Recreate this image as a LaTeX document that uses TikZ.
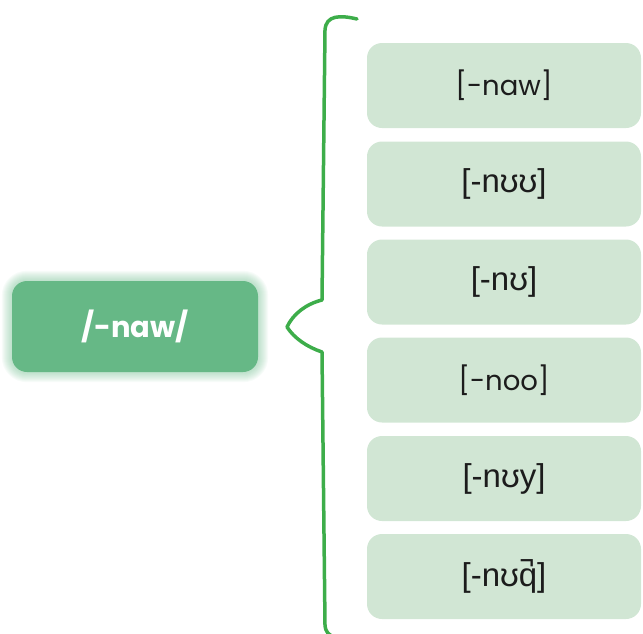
\documentclass[tikz,border=0pt]{standalone}
\usepackage{fontspec}
\setmainfont{Poppins}
\newfontfamily\ipafont[Scale=1.2]{Liberation Sans}
\usetikzlibrary{backgrounds}
\definecolor{rootgreen}{HTML}{66B886}
\definecolor{formgreen}{HTML}{D1E6D4}
\definecolor{bracegreen}{HTML}{3DAD4A}
\definecolor{formtext}{HTML}{1C1C1C}
\begin{document}
\begin{tikzpicture}[x=1pt,y=-1pt,
  root/.style={fill=rootgreen,rounded corners=15pt,minimum width=246pt,minimum height=91pt,
    text=white,font=\fontsize{29}{34}\selectfont\bfseries},
  glow/.style={fill=rootgreen,opacity=.05},
  form/.style={fill=formgreen,rounded corners=15pt,minimum width=274pt,minimum height=85pt,
    text=formtext,font=\fontsize{27.5}{32}\selectfont}]
\useasboundingbox (0,0) rectangle (643,633);

\node [root] (root) at (135,326.5) {/-naw/};
\begin{scope}[on background layer]
\foreach \g in {1,...,10}
  \fill [glow,rounded corners=15pt+\g pt]
    ([shift={(-\g pt,\g pt)}]root.north west) rectangle ([shift={(\g pt,-\g pt)}]root.south east);
\end{scope}

\node [form] (naw) at (504,85.5) {[-naw]};
\node [form] (nuu) at (504,184) {\ipafont [-nʊʊ]};
\node [form] (nu) at (504,282) {\ipafont [-nʊ]};
\node [form] (noo) at (504,380) {[-noo]};
\node [form] (nuy) at (504,478.5) {\ipafont [-nʊy]};
\node [form] (nuq) at (504,576.5) {\ipafont [-nʊq̚]};

\draw [bracegreen,line width=3.5pt,line cap=round,line join=round]
  (357,19) .. controls (340,15) and (326,15) .. (325,30) -- (322,300)
  .. controls (306,304) and (293,314) .. (287,327)
  .. controls (294,338) and (307,347) .. (322,352) -- (325,625)
  .. controls (326,640) and (340,638) .. (357,636);
\end{tikzpicture}
\end{document}
